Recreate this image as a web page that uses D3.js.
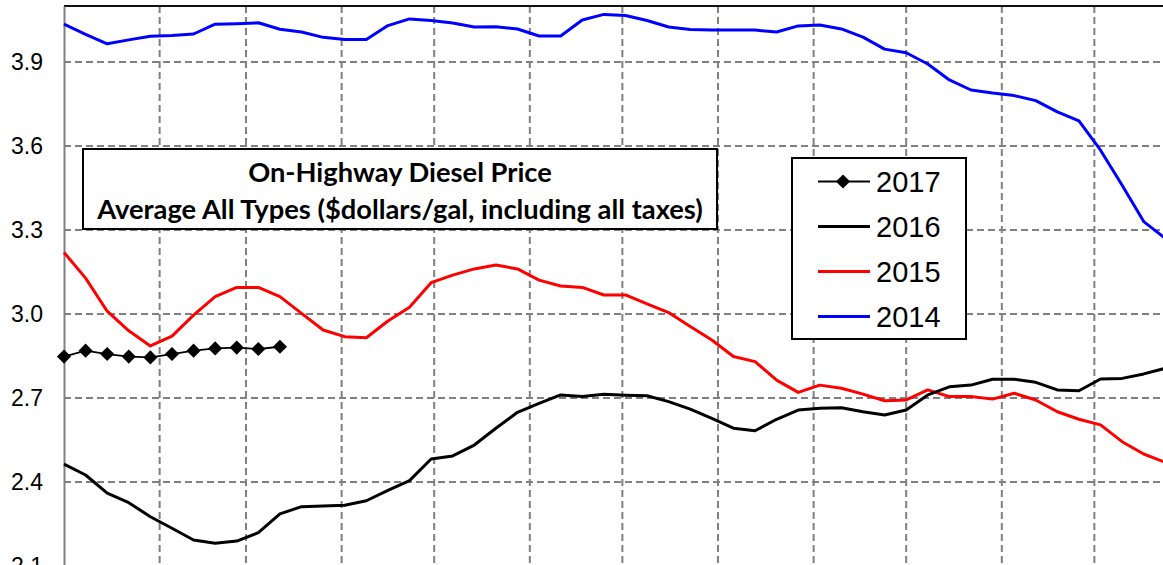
<!DOCTYPE html>
<html>
<head>
<meta charset="utf-8">
<script src="https://cdn.jsdelivr.net/npm/d3@7/dist/d3.min.js"></script>
<style>
  html, body { margin: 0; padding: 0; background: #fff; overflow: hidden; }
  svg { display: block; }
</style>
</head>
<body>
<svg id="chart" width="1163" height="565"></svg>
<script>
// Weekly on-highway diesel prices, $/gal (week 1 of each year first)
const price2014 = [4.035, 3.999, 3.965, 3.979, 3.992, 3.995, 4.000, 4.035, 4.037, 4.040,
  4.017, 4.007, 3.988, 3.980, 3.980, 4.030, 4.054, 4.048, 4.039, 4.025,
  4.026, 4.018, 3.993, 3.993, 4.050, 4.070, 4.066, 4.048, 4.025, 4.016,
  4.014, 4.014, 4.014, 4.007, 4.029, 4.032, 4.018, 3.989, 3.946, 3.933,
  3.893, 3.836, 3.800, 3.789, 3.780, 3.762, 3.722, 3.690, 3.585, 3.460,
  3.330, 3.270];
const price2015 = [3.220, 3.128, 3.010, 2.940, 2.886, 2.921, 2.996, 3.062, 3.095, 3.095,
  3.062, 3.002, 2.943, 2.919, 2.915, 2.975, 3.024, 3.112, 3.139, 3.161,
  3.175, 3.161, 3.121, 3.100, 3.095, 3.068, 3.068, 3.036, 3.005, 2.955,
  2.907, 2.848, 2.830, 2.764, 2.720, 2.746, 2.735, 2.714, 2.690, 2.693,
  2.729, 2.705, 2.705, 2.696, 2.717, 2.693, 2.651, 2.624, 2.604, 2.544,
  2.500, 2.470];
const price2016 = [2.464, 2.425, 2.360, 2.326, 2.276, 2.235, 2.193, 2.181, 2.189, 2.219,
  2.286, 2.312, 2.314, 2.317, 2.333, 2.370, 2.405, 2.482, 2.493, 2.532,
  2.592, 2.649, 2.681, 2.711, 2.705, 2.713, 2.710, 2.708, 2.687, 2.660,
  2.627, 2.592, 2.583, 2.624, 2.657, 2.663, 2.665, 2.651, 2.639, 2.657,
  2.711, 2.740, 2.746, 2.767, 2.767, 2.756, 2.729, 2.726, 2.768, 2.770,
  2.786, 2.806];
const price2017 = [2.848, 2.869, 2.857, 2.848, 2.845, 2.857, 2.869, 2.877, 2.880, 2.875, 2.883];

const yTicks = [2.1, 2.4, 2.7, 3.0, 3.3, 3.6, 3.9];
// first day of each month (day of year), used for the vertical grid
const monthStartDays = [31, 59, 90, 120, 151, 181, 212, 243, 273, 304, 334];

const titleLines = ["On-Highway Diesel Price", "Average All Types ($dollars/gal, including all taxes)"];

const seriesList = [
  { name: "2017", values: price2017, color: "#000000", width: 1.8, marker: true },
  { name: "2016", values: price2016, color: "#000000", width: 3, marker: false },
  { name: "2015", values: price2015, color: "#ff0000", width: 3, marker: false },
  { name: "2014", values: price2014, color: "#0000ff", width: 3, marker: false }
];

const svg = d3.select("#chart");
const plot = { left: 64, top: 6, right: 1190, bottom: 566 };

// x runs over day of year; weekly points sit 7 days apart
const x = d3.scaleLinear().domain([0, 365]).range([plot.left, plot.right]);
const y = d3.scaleLinear().domain([2.1, 4.1]).range([plot.bottom, plot.top]);
const weekX = i => x(i * 7);

// grid
const grid = svg.append("g")
  .attr("stroke", "#808080")
  .attr("stroke-width", 2)
  .attr("stroke-dasharray", "7,4");
grid.selectAll("line.h").data(yTicks.filter(v => v > 2.1)).join("line")
  .attr("class", "h")
  .attr("x1", plot.left).attr("x2", plot.right)
  .attr("y1", d => y(d)).attr("y2", d => y(d));
grid.selectAll("line.v").data(monthStartDays).join("line")
  .attr("class", "v")
  .attr("x1", d => x(d)).attr("x2", d => x(d))
  .attr("y1", plot.top).attr("y2", plot.bottom);

// frame: top border and the value axis
svg.append("line")
  .attr("x1", plot.left).attr("x2", plot.right)
  .attr("y1", plot.top).attr("y2", plot.top)
  .attr("stroke", "#111").attr("stroke-width", 2);

const yAxis = svg.append("g")
  .attr("transform", `translate(${plot.left},0)`)
  .call(d3.axisLeft(y).tickValues(yTicks).tickFormat(d3.format(".1f")).tickSize(0).tickPadding(21));
yAxis.select(".domain").attr("stroke", "#808080").attr("stroke-width", 2);
yAxis.selectAll("text")
  .attr("font-family", "'Liberation Sans', Arial, sans-serif")
  .attr("font-size", 23)
  .attr("fill", "#000");

// series lines
const line = d3.line().x((d, i) => weekX(i)).y(d => y(d));
const order = ["2014", "2015", "2016", "2017"];
order.forEach(name => {
  const s = seriesList.find(t => t.name === name);
  svg.append("path")
    .datum(s.values)
    .attr("fill", "none")
    .attr("stroke", s.color)
    .attr("stroke-width", s.width)
    .attr("stroke-linejoin", "round")
    .attr("d", line);
  if (s.marker) {
    svg.append("g").selectAll("path").data(s.values).join("path")
      .attr("d", d3.symbol(d3.symbolSquare, 100))
      .attr("transform", (d, i) => `translate(${weekX(i)},${y(d)}) rotate(45)`)
      .attr("fill", s.color);
  }
});

// title box
const tb = { x: 83, y: 149, w: 634, h: 80 };
svg.append("rect")
  .attr("x", tb.x).attr("y", tb.y).attr("width", tb.w).attr("height", tb.h)
  .attr("fill", "#fff").attr("stroke", "#000").attr("stroke-width", 2);
svg.append("g").selectAll("text").data(titleLines).join("text")
  .attr("x", tb.x + tb.w / 2)
  .attr("y", (d, i) => 182 + i * 37)
  .attr("text-anchor", "middle")
  .attr("font-family", "Lato, 'Open Sans', sans-serif")
  .attr("font-weight", "bold")
  .attr("font-size", 27.3)
  .attr("fill", "#000")
  .text(d => d);

// legend
const lg = { x: 792, y: 158, w: 174, h: 181 };
svg.append("rect")
  .attr("x", lg.x).attr("y", lg.y).attr("width", lg.w).attr("height", lg.h)
  .attr("fill", "#fff").attr("stroke", "#000").attr("stroke-width", 2);
const items = svg.append("g").selectAll("g").data(seriesList).join("g")
  .attr("transform", (d, i) => `translate(${lg.x},${lg.y + 23.5 + i * 45})`);
items.append("line")
  .attr("x1", 26).attr("x2", 78)
  .attr("stroke", d => d.color)
  .attr("stroke-width", d => d.marker ? 2 : 3);
items.filter(d => d.marker).append("path")
  .attr("d", d3.symbol(d3.symbolSquare, 100))
  .attr("transform", "translate(51,0) rotate(45)")
  .attr("fill", d => d.color);
items.append("text")
  .attr("x", 84).attr("y", 10)
  .attr("font-family", "'Liberation Sans', Arial, sans-serif")
  .attr("font-size", 29)
  .attr("fill", "#000")
  .text(d => d.name);
</script>
</body>
</html>
